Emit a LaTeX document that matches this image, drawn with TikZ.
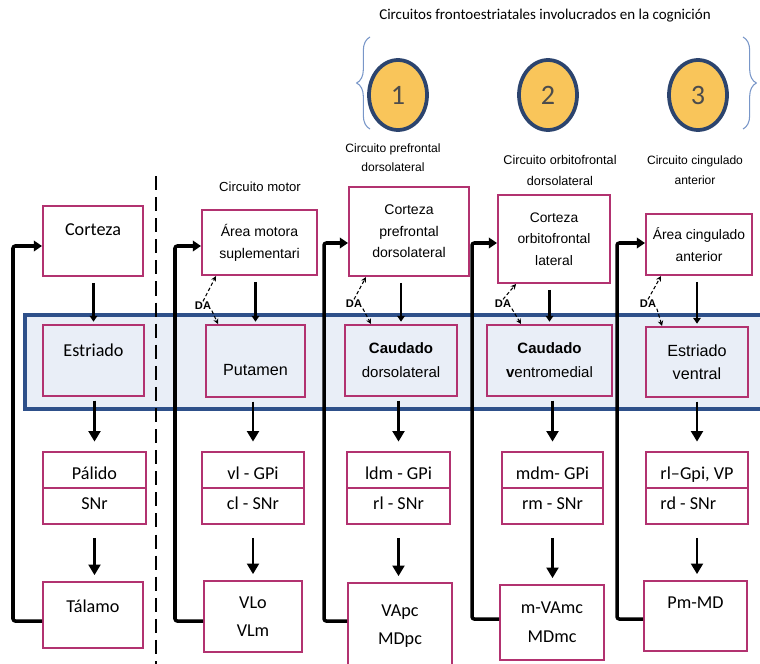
\documentclass[tikz,border=0pt]{standalone}
\usepackage{fontspec}
\setmainfont{Carlito}
\newfontfamily\arialf{Liberation Sans}
\usetikzlibrary{arrows.meta,shapes.geometric,decorations.pathreplacing}

\definecolor{boxc}{RGB}{178,50,112}
\definecolor{bandline}{RGB}{46,80,138}
\definecolor{bandfill}{RGB}{233,238,247}
\definecolor{circfill}{RGB}{249,197,90}
\definecolor{circline}{RGB}{44,68,110}
\definecolor{bracec}{RGB}{120,150,200}

\begin{document}
\begin{tikzpicture}[x=0.03cm, y=-0.03cm,
    wh/.style 2 args={minimum width=#1*0.03cm, minimum height=#2*0.03cm},
    bx/.style={draw=boxc, line width=1.7pt, inner sep=0pt, align=center},
    cal/.style={font=\fontsize{15.5}{25.5}\selectfont},
    ari/.style 2 args={font=\arialf\fontsize{#1}{#2}\selectfont},
    lift/.style 2 args={text height=#1, text depth=#2},
    num/.style={draw=circline, fill=circfill, ellipse, line width=3.2pt, wh={58}{70}, font=\fontsize{24}{24}\selectfont, text=black!70},
    dalab/.style={font=\arialf\bfseries\fontsize{9.5}{9.5}\selectfont, inner sep=0.5pt},
    ar/.style={line width=2pt, -{Triangle[length=5pt,width=6.5pt]}, shorten <=5pt, shorten >=2pt},
    arb/.style={line width=2.3pt, -{Triangle[length=9pt,width=10pt]}},
    fb/.style={line width=3pt, rounded corners=2pt, -{Triangle[length=7pt,width=9pt]}},
    da/.style={densely dashed, line width=0.9pt, -{Stealth[length=4.5pt,width=4.5pt]}},
    brc/.style={draw=bracec, line width=0.9pt, decorate, decoration={brace, amplitude=0.4cm}}]
    \useasboundingbox (0,0) rectangle (760,663);

    % striatum band
    \draw[draw=bandline, fill=bandfill, line width=3pt] (25,315) rectangle (780,409);
    \draw[line width=2.4pt, dash pattern=on 12pt off 6pt] (156,176) -- (156,668);

    % top
    \node[font=\fontsize{12.8}{14}\selectfont] (title) at (545,16) {Circuitos frontoestriatales involucrados en la cognición};
    \draw[brc] (370,129) -- (370,37);
    \draw[brc] (743,37) -- (743,129);
    \node[num] (c1) at (398,95) {1};
    \node[num] (c2) at (548,95) {2};
    \node[num] (c3) at (698,95) {3};

    % circuit labels
    \node[ari={11.2}{18}] (lab2) at (260,187) {Circuito motor};
    \node[ari={10.3}{16.2}, align=center] (lab3) at (393,158) {Circuito prefrontal\\dorsolateral};
    \node[ari={10.8}{17.9}, align=center] (lab4) at (560,170) {Circuito orbitofrontal\\dorsolateral};
    \node[ari={10.3}{17}, align=center] (lab5) at (695,170) {Circuito cingulado\\anterior};

    % cortex
    \node[bx, cal, wh={100}{70}, lift={10pt}{20pt}] (ctx1) at (93,241) {Corteza};
    \node[bx, ari={12}{19}, wh={115}{65}] (ctx2) at (259.5,242.5) {Área motora\\suplementari};
    \node[bx, ari={12}{18.4}, wh={120}{89}] (ctx3) at (409,231.5) {Corteza\\prefrontal\\dorsolateral};
    \node[bx, ari={11.8}{18.4}, wh={112}{88}] (ctx4) at (554,239) {Corteza\\orbitofrontal\\lateral};
    \node[bx, ari={11.8}{19}, wh={106}{61}] (ctx5) at (699,244.5) {Área cingulado\\anterior};

    % striatum
    \node[bx, cal, wh={101}{71}, lift={10pt}{17.4pt}] (str1) at (93.5,360.5) {Estriado};
    \node[bx, ari={13.8}{20}, wh={99}{72}, lift={25pt}{0pt}] (str2) at (255.5,361) {Putamen};
    \node[bx, ari={12.8}{20.5}, wh={112}{71}] (str3) at (401,360.5) {\textbf{Caudado}\\dorsolateral};
    \node[bx, ari={12.8}{20.5}, wh={125}{71}] (str4) at (549.5,360.5) {\textbf{Caudado}\\\textbf{v}entromedial};
    \node[bx, ari={13.8}{20}, wh={102}{70}] (str5) at (697,362) {Estriado\\ventral};

    % pallidum / SNr
    \node[bx, cal, wh={103}{72}] (pal1) at (94.5,488) {Pálido\\SNr};
    \node[bx, cal, wh={102}{72}] (pal2) at (253,488) {vl - GPi\\cl - SNr};
    \node[bx, cal, wh={103}{72}] (pal3) at (398.5,488) {ldm - GPi\\rl - SNr};
    \node[bx, cal, wh={101}{72}] (pal4) at (552.5,488) {mdm- GPi\\rm - SNr};
    \node[bx, cal, wh={102}{72}, align=left] (pal5) at (697,488) {rl–Gpi, VP\\rd - SNr};
    \foreach \n in {1,...,5}
        \draw[draw=boxc, line width=1.7pt] (pal\n.west) -- (pal\n.east);

    % thalamus
    \node[bx, cal, wh={100}{66}, lift={10pt}{14pt}] (tal1) at (93,615) {Tálamo};
    \node[bx, font=\fontsize{15.5}{24}\selectfont, wh={98}{71}] (tal2) at (253,616.5) {VLo\\VLm};
    \node[bx, font=\fontsize{15.5}{24.5}\selectfont, wh={104}{86}] (tal3) at (400,626) {VApc\\MDpc};
    \node[bx, font=\fontsize{15.5}{25}\selectfont, wh={104}{75}] (tal4) at (552,622.5) {m-VAmc\\MDmc};
    \node[bx, cal, wh={103}{70}, lift={10pt}{22.4pt}] (tal5) at (695.5,616) {Pm-MD};

    % dopamine
    \node[dalab] (da2) at (203,306) {DA};
    \node[dalab] (da3) at (354,304) {DA};
    \node[dalab] (da4) at (503,304) {DA};
    \node[dalab] (da5) at (648,304) {DA};
    \draw[da] (da2.north) -- ([shift={(15,0)}]ctx2.south west);
    \draw[da] (da2.south east) -- ([shift={(13,0)}]str2.north west);
    \draw[da] (da3.north) -- ([shift={(18,0)}]ctx3.south west);
    \draw[da] (da3.south east) -- ([shift={(27,0)}]str3.north west);
    \draw[da] (da4.north) -- ([shift={(19,0)}]ctx4.south west);
    \draw[da] (da4.south east) -- ([shift={(35,0)}]str4.north west);
    \draw[da] (da5.north) -- ([shift={(16,0)}]ctx5.south west);
    \draw[da] (da5.south east) -- ([shift={(17,0)}]str5.north west);

    % downward flow
    \foreach \n in {1,...,5} {
        \draw[ar] (str\n.north |- ctx\n.south) -- (str\n.north);
        \draw[arb, shorten <=3pt, shorten >=8pt] (pal\n.north |- str\n.south) -- (pal\n.north);
        \draw[arb, shorten <=11pt, shorten >=5pt] (pal\n.south) -- (pal\n.south |- tal\n.north);
    }

    % thalamo-cortical loops
    \draw[fb] ([shift={(0,6)}]tal1.west) -- ++(-29,0) |- ([shift={(0,5)}]ctx1.west);
    \draw[fb] ([shift={(0,4.5)}]tal2.west) -- ++(-28,0) |- ([shift={(0,3.5)}]ctx2.west);
    \draw[fb] ([shift={(0,-5)}]tal3.west) -- ++(-23,0) |- ([shift={(0,11.5)}]ctx3.west);
    \draw[fb] ([shift={(0,-3.5)}]tal4.west) -- ++(-27,0) |- ([shift={(0,4)}]ctx4.west);
    \draw[fb] ([shift={(0,3)}]tal5.west) -- ++(-26,0) |- ([shift={(0,-1.5)}]ctx5.west);
\end{tikzpicture}
\end{document}
